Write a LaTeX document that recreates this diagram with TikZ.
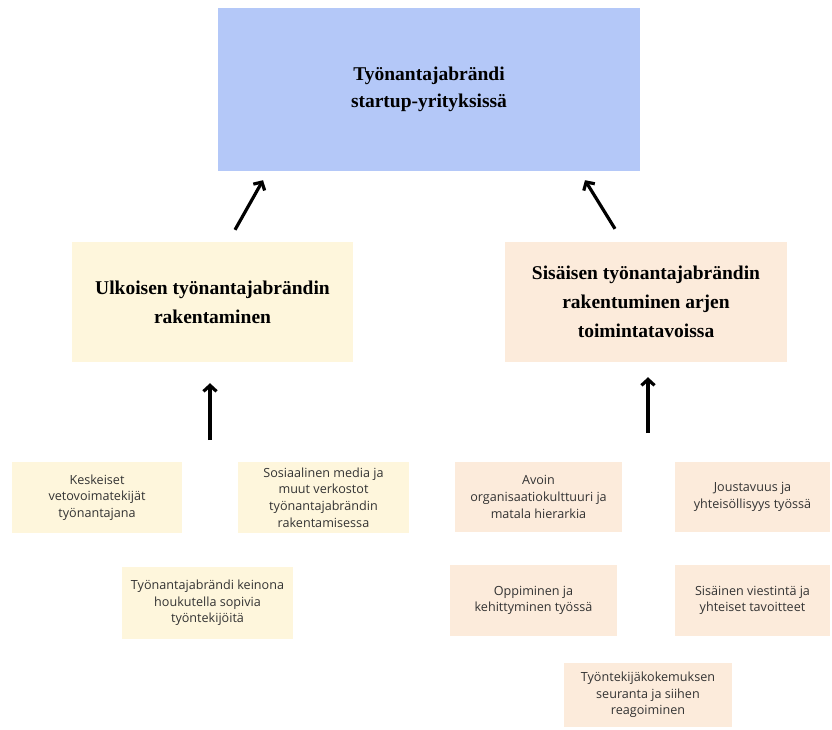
\documentclass[tikz,border=0pt]{standalone}
\usepackage{fontspec}
\usetikzlibrary{arrows.meta}
\setmainfont{Liberation Serif}
\newfontfamily\boxfont{Open Sans}
\definecolor{topblue}{HTML}{B4C8F8}
\definecolor{creambox}{HTML}{FEF6DC}
\definecolor{peachbox}{HTML}{FCEBDB}
\definecolor{boxtext}{HTML}{333333}
\begin{document}
\begin{tikzpicture}[x=1pt, y=-1pt,
        title/.style={fill=#1, align=center, font=\fontsize{19.5}{29}\selectfont\bfseries, inner sep=0pt},
        item/.style={fill=#1, align=center, text=boxtext, font=\boxfont\fontsize{12.6}{16.7}\selectfont, inner sep=0pt},
        arr/.style={-{Straight Barb[length=6pt, width=13pt]}, line width=3.2pt}]
        \useasboundingbox (0, 0) rectangle (832, 729);
        % otsikot
        \node[title=topblue, minimum width=422pt, minimum height=163pt, font=\fontsize{19.5}{27}\selectfont\bfseries] (top) at (429, 89.5) {Työnantajabrändi\\ startup-yrityksissä};
        \node[title=creambox, minimum width=281pt, minimum height=120pt] (ulk) at (212.5, 302) {Ulkoisen työnantajabrändin\\ rakentaminen};
        \node[title=peachbox, minimum width=282pt, minimum height=120pt] (sis) at (646, 302) {Sisäisen työnantajabrändin\\ rakentuminen arjen\\ toimintatavoissa};
        % ulkoinen
        \node[item=creambox, minimum width=170pt, minimum height=71pt] (kesk) at (97, 497.5) {Keskeiset\\ vetovoimatekijät\\ työnantajana};
        \node[item=creambox, minimum width=171pt, minimum height=71pt] (some) at (323.5, 497.5) {Sosiaalinen media ja\\ muut verkostot\\ työnantajabrändin\\ rakentamisessa};
        \node[item=creambox, minimum width=171pt, minimum height=72pt] (keino) at (207.5, 603) {Työnantajabrändi keinona\\ houkutella sopivia\\ työntekijöitä};
        % sisäinen
        \node[item=peachbox, minimum width=167pt, minimum height=70pt] (avoin) at (538.5, 497) {Avoin\\ organisaatiokulttuuri ja\\ matala hierarkia};
        \node[item=peachbox, minimum width=155pt, minimum height=70pt] (jousto) at (752.5, 497) {Joustavuus ja\\ yhteisöllisyys työssä};
        \node[item=peachbox, minimum width=167pt, minimum height=71pt] (oppi) at (533.5, 600.5) {Oppiminen ja\\ kehittyminen työssä};
        \node[item=peachbox, minimum width=155pt, minimum height=71pt] (viesti) at (752.5, 600.5) {Sisäinen viestintä ja\\ yhteiset tavoitteet};
        \node[item=peachbox, minimum width=168pt, minimum height=64pt] (kokemus) at (648, 695) {Työntekijäkokemuksen\\ seuranta ja siihen\\ reagoiminen};
        % nuolet
        \coordinate (ulkfoot) at (210, 440);
        \coordinate (sisfoot) at (648, 433);
        \draw[arr, shorten >=21pt] (ulkfoot) -- (ulkfoot |- ulk.south);
        \draw[arr, shorten >=15pt] (sisfoot) -- (sisfoot |- sis.south);
        \draw[arr] ([xshift=22.5pt, yshift=12pt]ulk.north) -- ([xshift=-166pt, yshift=-9pt]top.south);
        \draw[arr] ([xshift=-31pt, yshift=13pt]sis.north) -- ([xshift=156pt, yshift=-9pt]top.south);
    \end{tikzpicture}
\end{document}
